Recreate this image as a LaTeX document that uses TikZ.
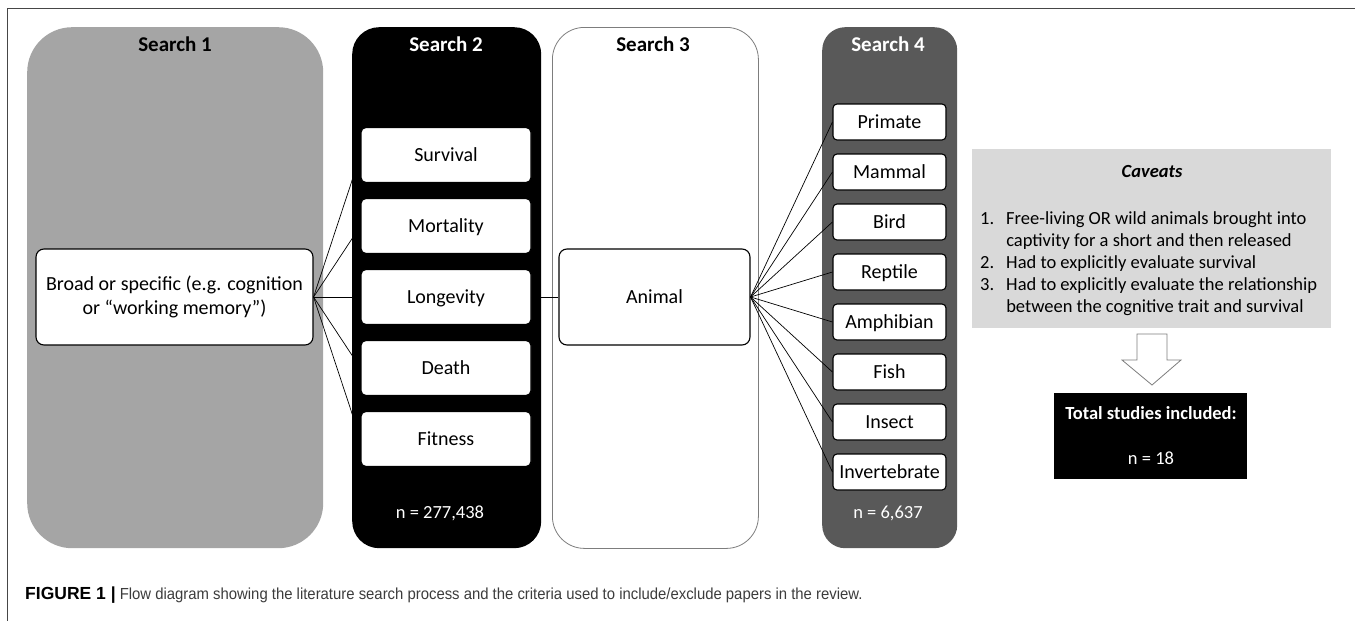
\documentclass[tikz,border=0pt]{standalone}
\usepackage{fontspec}
\setmainfont{Carlito}
\newfontfamily\capfont{Liberation Sans}
\newfontfamily\capnarrow[FakeStretch=0.93]{Liberation Sans}
\usetikzlibrary{positioning}
\definecolor{srchgray}{RGB}{165,165,165}
\definecolor{srchdark}{RGB}{89,89,89}
\definecolor{cavgray}{RGB}{217,217,217}
\definecolor{edgegray}{RGB}{125,125,125}
\definecolor{framegray}{RGB}{70,70,70}
\definecolor{capgray}{RGB}{60,60,60}

\tikzset{
  searchcol/.style={minimum width=#1, minimum height=521, inner sep=0, anchor=north west},
  coltitle/.style={font=\fontsize{21}{25}\selectfont\bfseries},
  term/.style={draw=black, fill=white, line width=1.1pt, rounded corners=5, inner sep=0,
    minimum width=170, minimum height=55, text height=16, text depth=3.2,
    font=\fontsize{20}{24}\selectfont},
  taxon/.style={term, rounded corners=4, minimum width=113, minimum height=36},
  query/.style={term, rounded corners=8, minimum width=#1, minimum height=96, align=center,
    text height=, text depth=},
  count/.style={font=\fontsize{18.5}{22}\selectfont, text=white},
  link/.style={draw=black, line width=0.7pt}
}

\begin{document}
\begin{tikzpicture}[x=1pt, y=-1pt]
  \useasboundingbox (0,0) rectangle (1355,621);

  % frame
  \draw[framegray, line width=1.3pt] (7.5,621) -- (7.5,8.5) -- (1355,8.5);

  % Search 1
  \node[searchcol=296, fill=srchgray, rounded corners=45] (s1) at (27,27) {};
  \node[coltitle] (t1) at (175,44) {Search 1};
  \node[query=277] (broad) at (174.5,297)
    {Broad or specific (e.g. cognition\\or \textquotedblleft working memory\textquotedblright)};

  % Search 2
  \node[searchcol=189, fill=black, rounded corners=27] (s2) at (352,27) {};
  \node[coltitle, text=white] (t2) at (446,44) {Search 2};
  \node[term] (surv) at (446,155) {Survival};
  \node[term] (mort) at (446,226) {Mortality};
  \node[term] (longev) at (446,297) {Longevity};
  \node[term] (death) at (446,368) {Death};
  \node[term] (fit) at (446,439) {Fitness};
  \node[count] (n2) at (440,513) {n = 277,438};

  % Search 3
  \node[searchcol=206, fill=white, draw=edgegray, line width=0.8pt, rounded corners=32] (s3) at (552,27) {};
  \node[coltitle] (t3) at (653,44) {Search 3};
  \node[query=191] (animal) at (654.5,297) {Animal};

  % Search 4
  \node[searchcol=135, fill=srchdark, rounded corners=23] (s4) at (822,27) {};
  \node[coltitle, text=white] (t4) at (888,44) {Search 4};
  \node[taxon] (prim) at (889.5,122) {Primate};
  \node[taxon] (mamm) at (889.5,172) {Mammal};
  \node[taxon] (bird) at (889.5,222) {Bird};
  \node[taxon] (rept) at (889.5,272) {Reptile};
  \node[taxon] (amph) at (889.5,322) {Amphibian};
  \node[taxon] (fish) at (889.5,372) {Fish};
  \node[taxon] (insect) at (889.5,422) {Insect};
  \node[taxon] (invert) at (889.5,472) {Invertebrate};
  \node[count] (n4) at (888,513) {n = 6,637};

  % links
  \draw[link] (broad.east) -- (surv.west);
  \draw[link] (broad.east) -- (mort.west);
  \draw[link] (broad.east) -- (longev.west);
  \draw[link] (broad.east) -- (death.west);
  \draw[link] (broad.east) -- (fit.west);
  \draw[link] (longev.east) -- (animal.west);
  \draw[link] (animal.east) -- (prim.west);
  \draw[link] (animal.east) -- (mamm.west);
  \draw[link] (animal.east) -- (bird.west);
  \draw[link] (animal.east) -- (rept.west);
  \draw[link] (animal.east) -- (amph.west);
  \draw[link] (animal.east) -- (fish.west);
  \draw[link] (animal.east) -- (insect.west);
  \draw[link] (animal.east) -- (invert.west);

  % Caveats
  \node[fill=cavgray, minimum width=359, minimum height=179, inner sep=0] (cav) at (1151.5,238.5) {};
  \node[font=\fontsize{18.5}{22}\selectfont\bfseries\itshape] (cavtitle) at (1152,172) {Caveats};
  \node[anchor=base west, inner sep=0, font=\fontsize{18.5}{22}\selectfont] (cavlist) at (980,224)
    {\begin{tabular}[t]{@{}l@{\hspace{12pt}}l@{}}
      1. & Free-living OR wild animals brought into\\
         & captivity for a short and then released\\
      2. & Had to explicitly evaluate survival\\
      3. & Had to explicitly evaluate the relationship\\
         & between the cognitive trait and survival
    \end{tabular}};

  % arrow down
  \draw[edgegray, fill=white, line width=0.8pt] (1137,334) -- (1167,334) -- (1167,360) -- (1181,360)
    -- (1152,385) -- (1122,360) -- (1137,360) -- cycle;

  % Total
  \node[fill=black, minimum width=193, minimum height=86, inner sep=0] (total) at (1150.5,436) {};
  \node[count, font=\fontsize{18.5}{22}\selectfont\bfseries] (totaltitle) at (1151,413) {Total studies included:};
  \node[count] (n18) at (1151,458) {n = 18};

  % caption
  \node[anchor=base west, inner sep=0, text=capgray] (caption) at (25,599)
    {\textcolor{black}{\capfont\fontsize{17.5}{20}\selectfont\bfseries FIGURE 1 |}%
     \capnarrow\fontsize{16}{19}\selectfont\ Flow diagram showing the literature search process and the criteria used to include/exclude papers in the review.};
\end{tikzpicture}
\end{document}
